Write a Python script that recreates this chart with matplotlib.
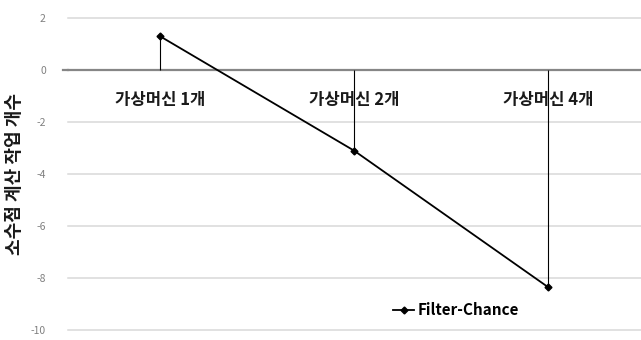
import matplotlib
matplotlib.use("Agg")
import matplotlib.pyplot as plt

plt.rcParams['font.family'] = ['Noto Sans CJK KR', 'DejaVu Sans']

categories = ["가상머신 1개", "가상머신 2개", "가상머신 4개"]
values = [1.3, -3.1, -8.35]
series_name = "Filter-Chance"
y_ticks = [2, 0, -2, -4, -6, -8, -10]
y_label = "소수점 계산 작업 개수"

W, H = 641, 340
fig = plt.figure(figsize=(W / 100, H / 100), dpi=100)
ax = fig.add_axes([68 / W, 10 / H, (W - 68) / W, 312 / H])

x = list(range(len(categories)))
ax.set_xlim(-0.474, 2.479)
ax.set_ylim(-10, 2)

# light horizontal gridlines, darker zero line
for t in y_ticks:
    if t == 0:
        continue
    ax.axhline(t, color="#d9d9d9", lw=1.1, zorder=0, clip_on=False)
ax.axhline(0, color="#868686", lw=1.6, zorder=1, clip_on=False)
ax.plot([-0.5, -0.474], [0, 0], color="#868686", lw=1.6, clip_on=False, zorder=1)

# drop lines from each point to the zero line
ax.vlines(x, [0] * len(values), values, colors="black", lw=0.8, zorder=2)

line, = ax.plot(x, values, color="black", lw=1.3, marker="D", markersize=3.5,
                zorder=3, label=series_name)

# category labels drawn just below the zero line
for xi, cat in zip(x, categories):
    ax.text(xi, -1.15, cat, ha="center", va="center", fontsize=12,
            fontweight="bold", color="#1a1a1a")

ax.set_yticks(y_ticks)
ax.set_yticklabels([str(t) for t in y_ticks])
ax.tick_params(axis="y", length=0, pad=16,
               labelsize=7.5, labelcolor="#808080")
ax.set_xticks([])
for s in ax.spines.values():
    s.set_visible(False)

fig.text(15 / W, 1 - 174 / H, y_label, rotation=90, ha="center", va="center",
         fontsize=13, fontweight="bold", color="#1a1a1a")

leg = fig.legend(handles=[line], loc="center", bbox_to_anchor=(456 / W, 1 - 310 / H),
                 frameon=False, handlelength=1.4, handletextpad=0.2,
                 prop={"weight": "bold", "size": 11})

fig.savefig("out.png", dpi=100)
